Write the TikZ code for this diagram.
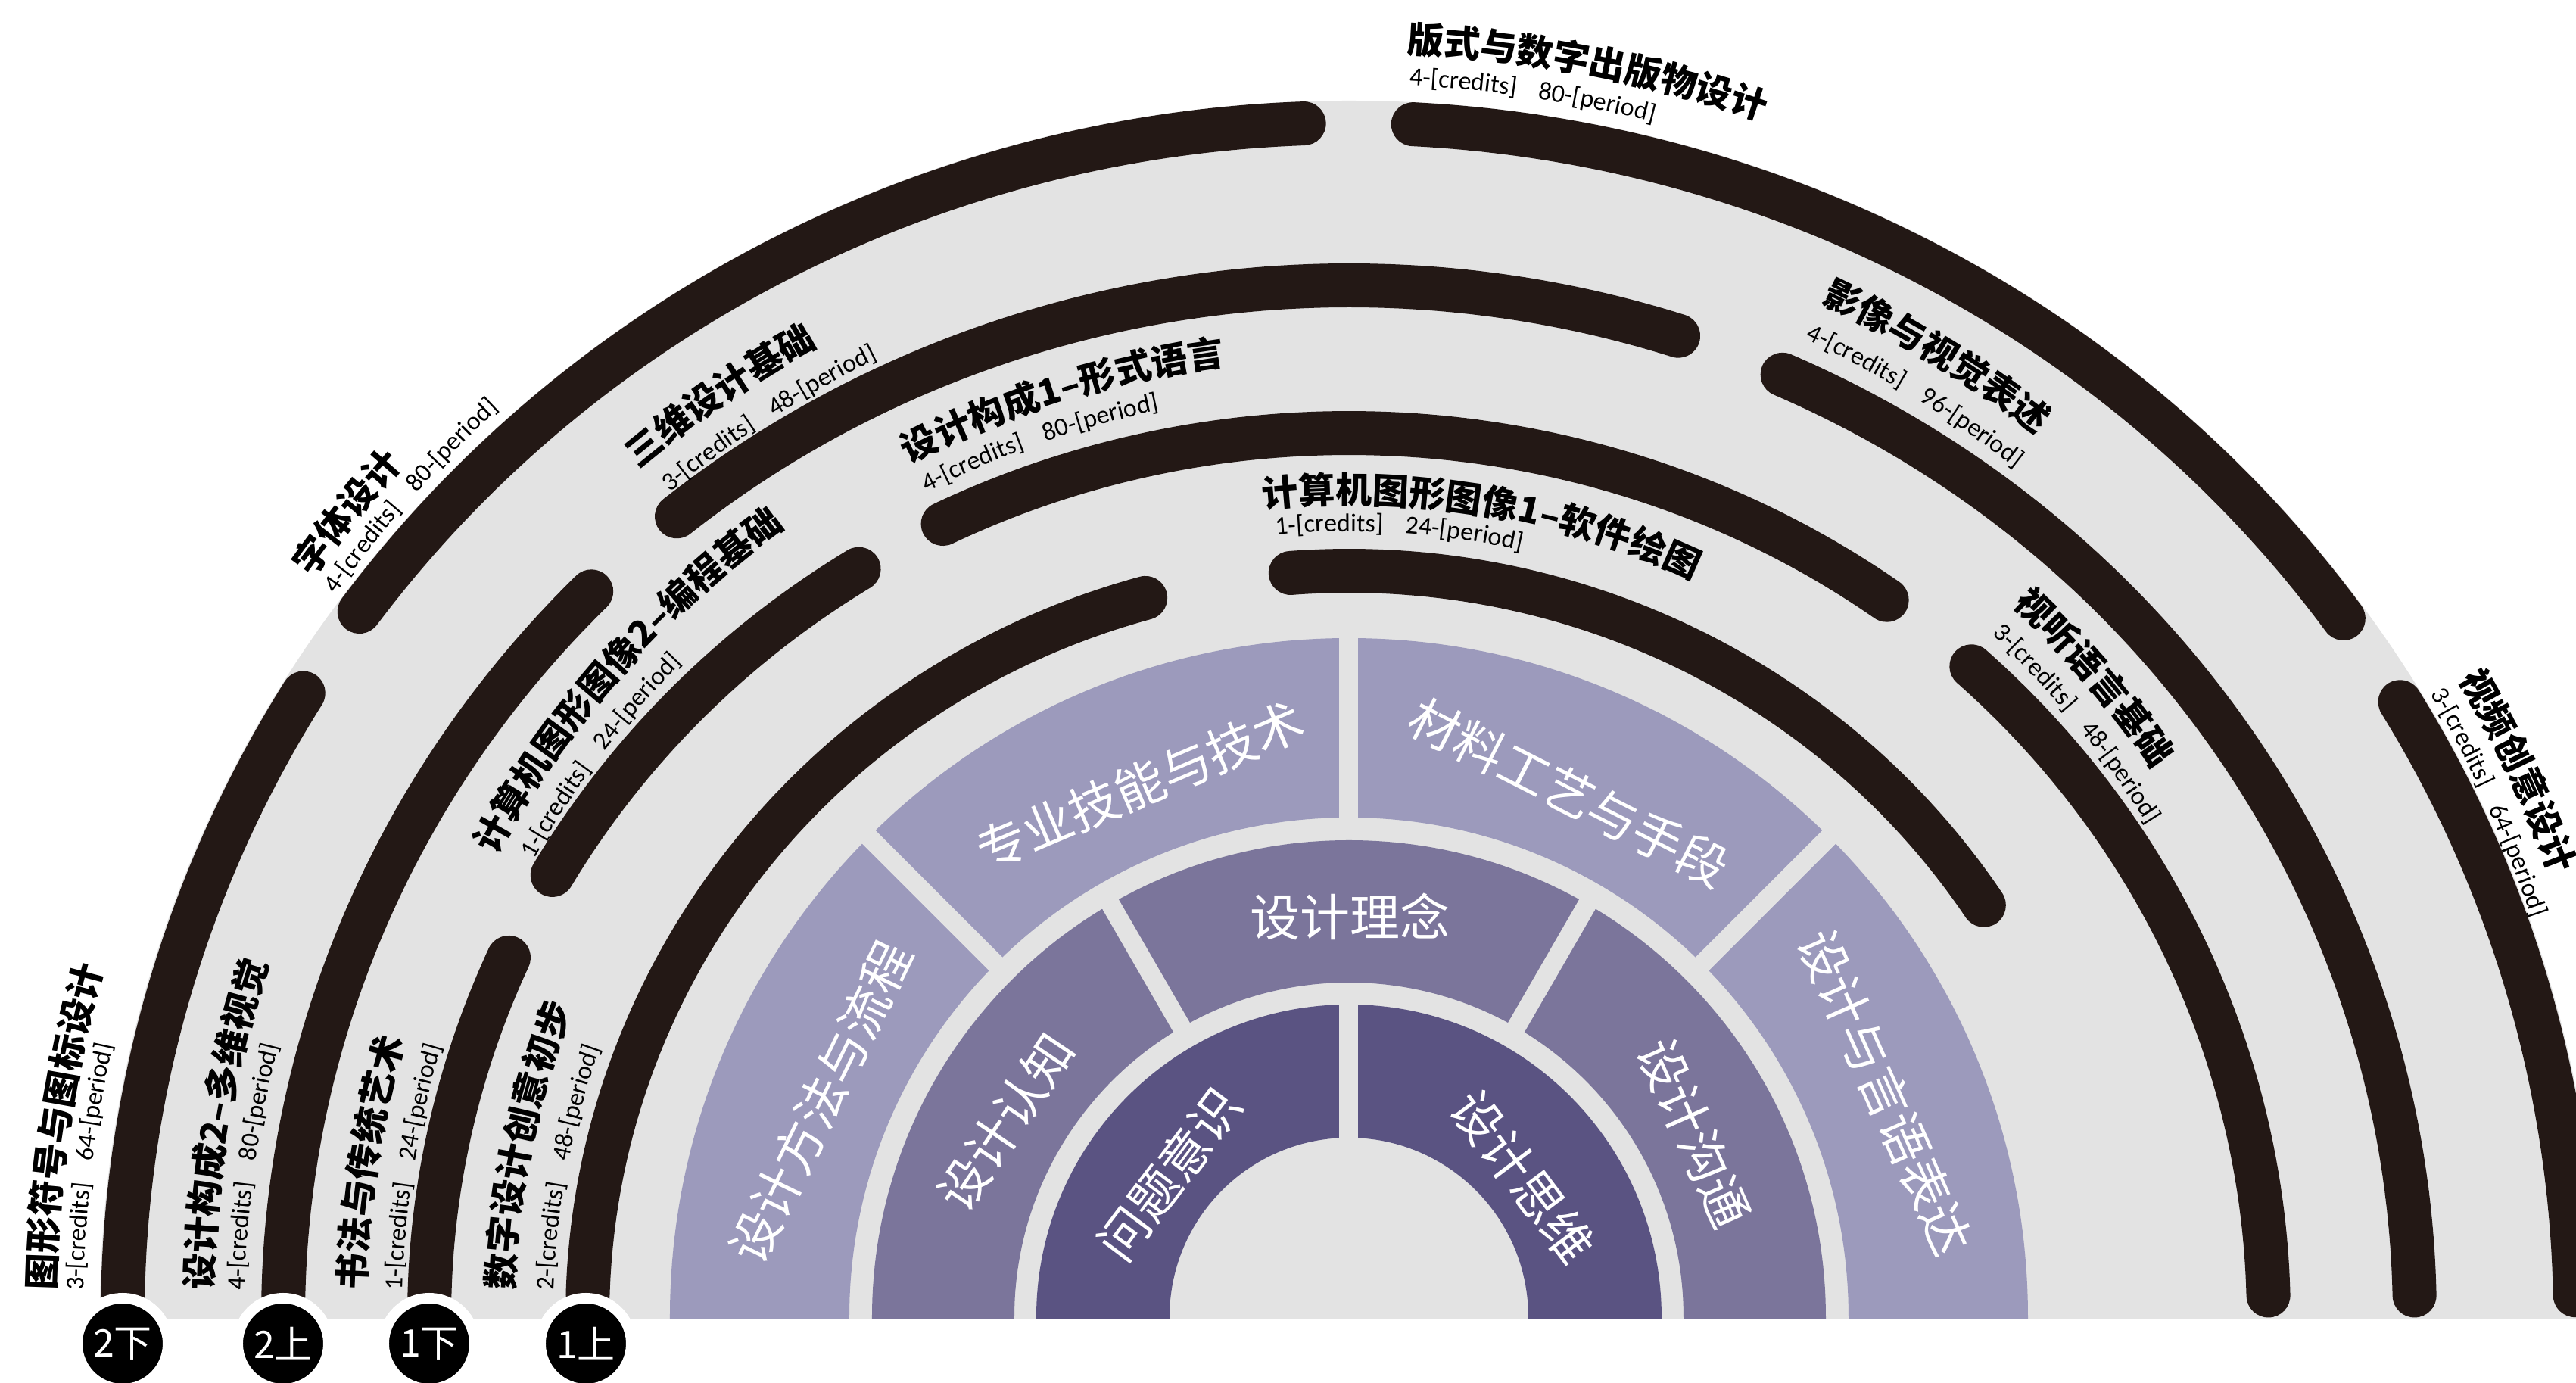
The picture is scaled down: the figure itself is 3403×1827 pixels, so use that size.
\documentclass[tikz,border=0pt]{standalone}
\usepackage{fontspec}
\usetikzlibrary{decorations.text}
\newfontfamily\cjk{Noto Sans CJK SC}
\newfontfamily\crd{Carlito}
\newcommand\ttlf{\cjk\bfseries\fontsize{48}{52}\selectfont}
\newcommand\crdf{\crd\fontsize{34}{36}\selectfont}
\definecolor{bgray}{RGB}{227,227,227}
\definecolor{arcblk}{RGB}{35,24,21}
\definecolor{pA}{RGB}{156,154,188}
\definecolor{pB}{RGB}{123,117,155}
\definecolor{pC}{RGB}{90,83,130}
\newcommand\crsarc[4]{\draw[course] (#1:#3pt and #4pt) arc[start angle=#1, end angle=#2, x radius=#3pt, y radius=#4pt];}
\newcommand\ringfill[3]{\fill[#1] (-#2pt,-3pt) -- (-#3pt,-3pt) -- (180:#3pt) arc[start angle=180, end angle=0, radius=#3pt] -- (#3pt,-3pt) -- (#2pt,-3pt) -- (0:#2pt) arc[start angle=0, end angle=180, radius=#2pt] -- cycle;}
% text along a clockwise arc: #1 start angle, #2 baseline radius, #3 format, #4 text
\newcommand\ctext[4]{\path[decorate, decoration={text along path, text={|#3|#4}, text align=left}] (#1:#2pt) arc[start angle=#1, end angle=#1-50, radius=#2pt];}
\newcommand\ttltext[3]{\ctext{#1}{#2}{\ttlf}{#3}}
\newcommand\credtext[4]{\ctext{#1}{#2}{\crdf}{#3}\ctext{#1-9798/#2}{#2}{\crdf}{#4}}
\begin{document}
\begin{tikzpicture}[x=1pt,y=1pt,
  course/.style={draw=arcblk, line width=58pt, line cap=round},
  seg/.style={font=\cjk\fontsize{66}{72}\selectfont, text=white, inner sep=0pt},
  sep/.style={draw=bgray, line width=25pt},
  sem/.style={circle, fill=black, draw=white, line width=14pt, minimum size=120pt, inner sep=0pt, text=white, font=\cjk\fontsize{50}{54}\selectfont}]
\useasboundingbox (-1782,-87) rectangle (1621,1740);
\fill[white] (-1782,-87) rectangle (1621,1740);
% grey half disc
\fill[bgray] (1650,-3) -- (0:1650pt and 1607pt) arc[start angle=0, end angle=180, x radius=1650pt, y radius=1607pt] -- (-1650,-3) -- cycle;
% purple rings
\ringfill{pA}{660}{897}
\ringfill{pB}{442}{630}
\ringfill{pC}{237}{413}
% separators
\draw[sep] (45:645pt) -- (45:910pt);
\draw[sep] (90:645pt) -- (90:910pt);
\draw[sep] (135:645pt) -- (135:910pt);
\draw[sep] (60:428pt) -- (60:645pt);
\draw[sep] (120:428pt) -- (120:645pt);
\draw[sep] (90:225pt) -- (90:428pt);
% course arcs
\crsarc{148.5}{178.95}{1620}{1578}
\crsarc{92.1}{143.8}{1620}{1578}
\crsarc{35.8}{87}{1620}{1578}
\crsarc{1.05}{31}{1620}{1578}
\crsarc{135.3}{178.8}{1408}{1363}
\crsarc{72}{129.1}{1408}{1363}
\crsarc{1.2}{66}{1408}{1363}
\crsarc{156}{178.6}{1215}{1168}
\crsarc{122.2}{150}{1215}{1168}
\crsarc{54.2}{116.2}{1215}{1168}
\crsarc{1.4}{47.4}{1215}{1168}
\crsarc{105.5}{178.3}{1006}{986}
\crsarc{33.5}{94.4}{1006}{986}
% semester circles
\node[sem] (s1) at (-1620,-35) {2下};
\node[sem] (s2) at (-1408,-35) {2上};
\node[sem] (s3) at (-1215,-35) {1下};
\node[sem] (s4) at (-1008,-35) {1上};
% segment texts
\node[seg, rotate=64] (g1) at (-698,284) {设计方法与流程};
\node[seg, rotate=23] (g2) at (-276,702) {专业技能与技术};
\node[seg, rotate=-27] (g3) at (291,693) {材料工艺与手段};
\node[seg, rotate=-66] (g4) at (708,297) {设计与言语表达};
\node[seg, rotate=56] (g5) at (-453,258) {设计认知};
\node[seg] (g6) at (2,529) {设计理念};
\node[seg, rotate=-66] (g7) at (456,243) {设计沟通};
\node[seg, rotate=53] (g8) at (-237,189) {问题意识};
\node[seg, rotate=-53] (g9) at (230,185) {设计思维};
% course labels (titles and credits along arcs)
\ttltext{178.8}{1710}{图形符号与图标设计}
\credtext{178.8}{1672}{3-[credits]}{64-[period]}
\ttltext{178.65}{1502}{设计构成2–多维视觉}
\credtext{178.6}{1459}{4-[credits]}{80-[period]}
\ttltext{178.44}{1300}{书法与传统艺术}
\credtext{178.37}{1251}{1-[credits]}{24-[period]}
\ttltext{178.16}{1104}{数字设计创意初步}
\credtext{178.06}{1051}{2-[credits]}{48-[period]}
\ttltext{144.5}{1682}{字体设计}
\credtext{144.5}{1644}{4-[credits]}{80-[period]}
\ttltext{151.6}{1282}{计算机图形图像2–编程基础}
\credtext{150.7}{1235}{1-[credits]}{24-[period]}
\ttltext{129.95}{1462}{三维设计基础}
\credtext{129.47}{1411}{3-[credits]}{48-[period]}
\ttltext{117.27}{1268}{设计构成1–形式语言}
\credtext{117.1}{1224}{4-[credits]}{80-[period]}
\ttltext{87.38}{1672}{版式与数字出版物设计}
\credtext{87.2}{1629}{4-[credits]}{80-[period]}
\ttltext{96.07}{1075}{计算机图形图像1–软件绘图}
\credtext{95.36}{1038}{1-[credits]}{24-[period]}
\ttltext{65.07}{1478}{影像与视觉表述}
\credtext{65.0}{1426}{4-[credits]}{96-[period]}
\ttltext{47.07}{1286}{视听语言基础}
\credtext{46.73}{1239}{3-[credits]}{48-[period]}
\ttltext{29.92}{1692}{视频创意设计}
\credtext{29.98}{1649}{3-[credits]}{64-[period]}
\end{tikzpicture}
\end{document}
